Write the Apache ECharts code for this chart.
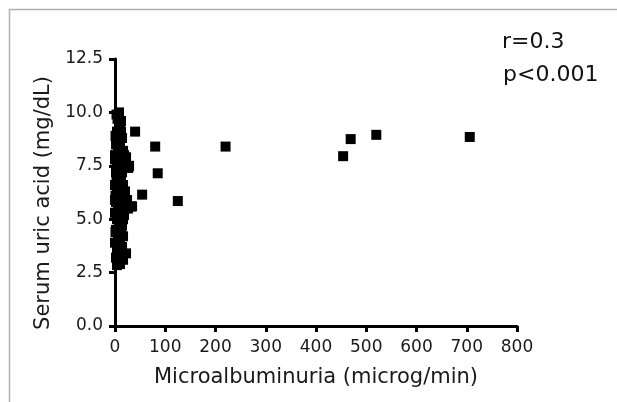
<!DOCTYPE html>
<html>
<head>
<meta charset="utf-8">
<script src="https://cdn.jsdelivr.net/npm/echarts@6/dist/echarts.min.js"></script>
<style>
  html, body { margin: 0; padding: 0; background: #fff; }
  #chart { width: 617px; height: 402px; }
</style>
</head>
<body>
<div id="chart"></div>
<script>
// microalbuminuria (microg/min) vs serum uric acid (mg/dL)
const microAlb = [
  8, 5, 10, 4, 12, 7, 14, 2, 10, 0, 6, 16, 0, 12, 22, 4, 18, 28, 8, 26,
  2, 14, 6, 12, 0, 10, 16, 4, 14, 20, 8, 18, 0, 2, 12, 32, 6, 20, 34, 0,
  10, 18, 4, 16, 8, 14, 2, 12, 6, 16, 0, 10, 4, 14, 8, 22, 2, 12, 6, 4,
  3, 12, 1, 9, 18, 3, 11, 1, 24, 15, 26, 10, 1, 8, 4, 16, 10,
  40, 80, 85, 54, 27, 220, 125, 454, 469, 520, 706
];
const uricAcid = [
  10.0, 9.7, 9.4, 9.1, 9.1, 8.8, 8.8, 8.5, 8.5, 8.0, 8.2, 8.2, 7.8, 7.9, 7.9, 7.6, 7.6, 7.5, 7.4, 7.4,
  7.2, 7.2, 6.9, 6.9, 6.6, 6.6, 6.6, 6.3, 6.3, 6.3, 6.0, 6.0, 5.9, 5.8, 5.8, 5.6, 5.6, 5.5, 5.6, 5.3,
  5.3, 5.2, 5.0, 5.0, 4.8, 4.7, 4.5, 4.5, 4.2, 4.2, 3.9, 3.9, 3.7, 3.7, 3.4, 3.4, 3.2, 3.3, 3.0, 2.85,
  9.9, 9.6, 8.9, 8.3, 8.0, 7.0, 7.0, 6.1, 5.9, 5.4, 5.5, 4.9, 4.4, 4.1, 3.5, 3.1, 2.9,
  9.1, 8.4, 7.15, 6.15, 7.45, 8.4, 5.85, 7.95, 8.75, 8.95, 8.85
];
const xTicks = { min: 0, max: 800, step: 100 };
const yTicks = { min: 0, max: 12.5, step: 2.5 };
const xTitle = 'Microalbuminuria (microg/min)';
const yTitle = 'Serum uric acid (mg/dL)';
const stats = ['r=0.3', 'p<0.001'];

const chart = echarts.init(document.getElementById('chart'));
const points = microAlb.map((x, i) => [x, uricAcid[i]]);
const font = 'DejaVu Sans, sans-serif';

const option = {
  animation: false,
  backgroundColor: '#fff',
  grid: { left: 115, right: 100, top: 59, bottom: 76 },
  xAxis: {
    type: 'value',
    min: xTicks.min, max: xTicks.max, interval: xTicks.step,
    name: xTitle,
    nameLocation: 'middle',
    nameGap: 41,
    nameTextStyle: { fontSize: 21, color: '#1a1a1a', fontFamily: font },
    axisLine: { show: true, lineStyle: { color: '#000', width: 3 } },
    axisTick: { show: true, length: 6, lineStyle: { color: '#000', width: 3 } },
    axisLabel: { fontSize: 17, color: '#1a1a1a', fontFamily: font, margin: 13 },
    splitLine: { show: false }
  },
  yAxis: {
    type: 'value',
    min: yTicks.min, max: yTicks.max, interval: yTicks.step,
    axisLine: { show: true, lineStyle: { color: '#000', width: 3 } },
    axisTick: { show: true, length: 6, lineStyle: { color: '#000', width: 3 } },
    axisLabel: {
      fontSize: 17, color: '#1a1a1a', fontFamily: font, margin: 12,
      formatter: v => v.toFixed(1)
    },
    splitLine: { show: false }
  },
  graphic: [
    {
      type: 'polyline',
      shape: { points: [[9.5, 402], [9.5, 9.5], [617, 9.5]] },
      style: { stroke: '#b0b0b0', lineWidth: 1.5, fill: null }
    },
    {
      type: 'text', x: 44, y: 203, rotation: Math.PI / 2,
      style: {
        text: yTitle, fontSize: 21, fill: '#1a1a1a', fontFamily: font,
        align: 'center', verticalAlign: 'middle'
      }
    },
    {
      type: 'text', left: 502, top: 31,
      style: { text: stats[0], fontSize: 22, fill: '#111', fontFamily: font }
    },
    {
      type: 'text', left: 503, top: 64,
      style: { text: stats[1], fontSize: 22, fill: '#111', fontFamily: font }
    }
  ],
  series: [{
    type: 'scatter',
    data: points,
    symbol: 'rect',
    symbolSize: 10,
    itemStyle: { color: '#000', opacity: 1 }
  }]
};

chart.setOption(option);
</script>
</body>
</html>
